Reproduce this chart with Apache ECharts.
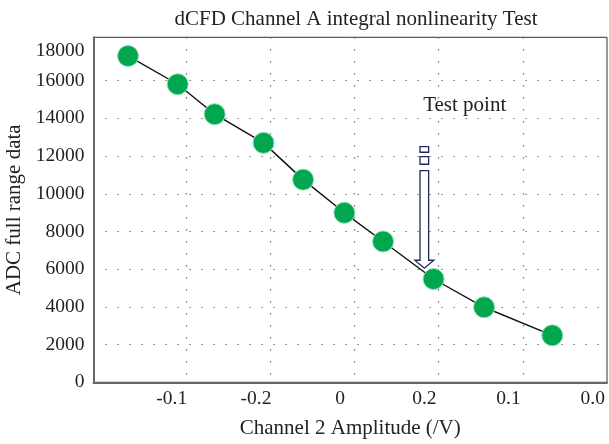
<!DOCTYPE html>
<html>
<head>
<meta charset="utf-8">
<script src="https://cdn.jsdelivr.net/npm/echarts@6/dist/echarts.min.js"></script>
<style>
  html, body { margin: 0; padding: 0; background: #fff; }
  #chart { width: 609px; height: 444px; }
</style>
</head>
<body>
<div id="chart"></div>
<script>
// 读图得到的数据（x 为图上的刻度位置单位）
const xValues = [0.31, 0.90, 1.34, 1.92, 2.39, 2.88, 3.34, 3.94, 4.54, 5.35];
const yValues = [17310, 15810, 14220, 12700, 10750, 8990, 7470, 5480, 3980, 2490];

// 坐标轴刻度
const xGrid = [1, 2, 3, 4, 5];
const xLabelPos = [0.83, 1.83, 2.83, 3.83, 4.83, 5.83];
const xLabels = ['-0.1', '-0.2', '0', '0.2', '0.1', '0.0'];
const yGrid = [0, 2000, 4000, 6000, 8000, 10000, 12000, 14000, 16000];
const yLabels = [0, 2000, 4000, 6000, 8000, 10000, 12000, 14000, 16000, 18000];

// 测试点箭头位置
const testPoint = [3.83, 6050];
const testLabel = [4.31, 14660];

const font = 'Liberation Serif';
const chartInstance = echarts.init(document.getElementById('chart'));

const option = {
    animation: false,
    title: {
        text: 'dCFD Channel A integral nonlinearity Test',
        left: 351,
        textAlign: 'center',
        top: 4,
        textStyle: { fontFamily: font, fontSize: 21, fontWeight: 'normal', color: '#222' }
    },
    grid: {
        left: 93.5, right: 2, top: 37.3, bottom: 61.7,
        show: true,
        borderColor: '#333',
        borderWidth: 1,
        outerBoundsMode: 'none'
    },
    xAxis: {
        type: 'value',
        min: -0.1,
        max: 6,
        name: 'Channel 2 Amplitude (/V)',
        nameLocation: 'middle',
        nameGap: 36,
        nameTextStyle: { fontFamily: font, fontSize: 21, color: '#222' },
        axisLine: { show: true, onZero: false, lineStyle: { color: '#666', width: 2 } },
        axisTick: { show: false, customValues: xGrid },
        axisLabel: {
            customValues: xLabelPos,
            fontFamily: font, fontSize: 19.5, color: '#222', margin: 7,
            formatter: function (v) {
                let best = 0;
                xLabelPos.forEach((p, i) => { if (Math.abs(p - v) < Math.abs(xLabelPos[best] - v)) best = i; });
                return xLabels[best];
            }
        },
        splitLine: { show: true, lineStyle: { color: '#555', width: 1.2, type: [1.2, 10.8] } }
    },
    yAxis: {
        type: 'value',
        min: 0,
        max: 18300,
        name: 'ADC full range data',
        nameLocation: 'middle',
        nameGap: 66,
        nameTextStyle: { fontFamily: font, fontSize: 21, color: '#222' },
        axisLine: { show: true, onZero: false, lineStyle: { color: '#666', width: 2 } },
        axisTick: { show: false, customValues: yGrid },
        axisLabel: {
            customValues: yLabels,
            fontFamily: font, fontSize: 19.5, color: '#222', margin: 9,
            formatter: function (v) { return v === 18000 ? '{top|' + v + '}' : String(v); },
            rich: { top: { fontFamily: font, fontSize: 19.5, color: '#222', padding: [16, 0, 0, 0] } }
        },
        splitLine: { show: true, lineStyle: { color: '#555', width: 1.2, type: [1.2, 10.8] } }
    },
    series: [
        {
            name: 'ADC',
            type: 'line',
            data: xValues.map((x, i) => [x, yValues[i]]),
            smooth: false,
            symbol: 'circle',
            symbolSize: 21,
            lineStyle: { color: '#111', width: 1.4 },
            itemStyle: {
                color: '#00a74f',
                borderColor: '#8fdcb0',
                borderWidth: 1
            },
            z: 3
        }
    ]
};

chartInstance.setOption(option);

// 箭头和文字，以数据坐标定位
const tip = chartInstance.convertToPixel({ gridIndex: 0 }, testPoint);
const lbl = chartInstance.convertToPixel({ gridIndex: 0 }, testLabel);
const tx = tip[0], ty = tip[1];
const arrowStyle = { fill: '#fff', stroke: '#1c2a5c', lineWidth: 1.3 };
chartInstance.setOption({
    graphic: [
        {
            type: 'polygon',
            shape: {
                points: [
                    [tx - 4.3, ty - 97.6], [tx + 4.3, ty - 97.6],
                    [tx + 4.3, ty - 8], [tx + 9.5, ty - 8],
                    [tx, ty], [tx - 9.5, ty - 8],
                    [tx - 4.3, ty - 8]
                ]
            },
            style: arrowStyle,
            z: 10
        },
        { type: 'rect', shape: { x: tx - 4.3, y: ty - 121.6, width: 8.6, height: 5.6 }, style: arrowStyle, z: 10 },
        { type: 'rect', shape: { x: tx - 4.3, y: ty - 111.6, width: 8.6, height: 7.6 }, style: arrowStyle, z: 10 },
        {
            type: 'text',
            x: lbl[0], y: lbl[1],
            style: {
                text: 'Test point', fontFamily: font, fontSize: 21, fill: '#222',
                align: 'center', verticalAlign: 'middle'
            },
            z: 10
        }
    ]
});

window.addEventListener('resize', () => chartInstance.resize());
</script>
</body>
</html>
